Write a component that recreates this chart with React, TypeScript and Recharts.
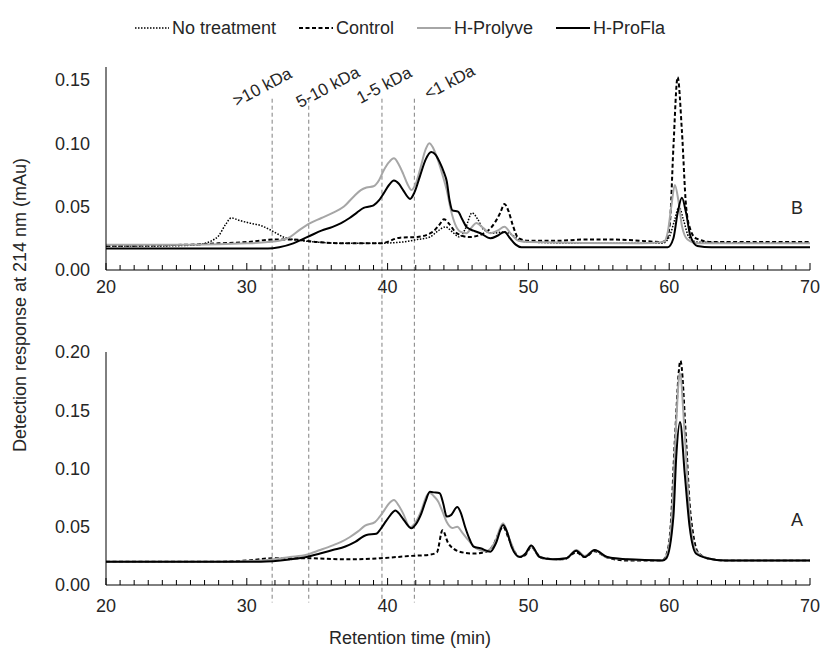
import { LineChart, Line, XAxis, YAxis, ReferenceLine } from "recharts";

type Pt = [number, number];

// retention time (min), detection response (AU)
const panelBNoTreatment: Pt[] = [
  [20, 0.019], [24, 0.019], [26, 0.0195], [27, 0.021], [27.5, 0.023], [28, 0.027],
  [28.5, 0.036], [28.9, 0.041], [29.5, 0.039], [30.2, 0.037], [31, 0.035], [31.6, 0.032],
  [32.1, 0.029], [32.6, 0.026], [33.3, 0.024], [34, 0.023], [35, 0.022], [37, 0.021],
  [39, 0.021], [41, 0.022], [42.1, 0.024], [43, 0.026], [43.6, 0.031], [44.1, 0.034],
  [44.6, 0.03], [45.1, 0.026], [45.5, 0.032], [46, 0.045], [46.4, 0.04], [46.8, 0.032],
  [47.5, 0.029], [48.3, 0.03], [48.8, 0.028], [49.3, 0.024], [50, 0.022], [55, 0.021],
  [59.5, 0.021], [60, 0.026], [60.4, 0.04], [60.7, 0.05], [61, 0.04], [61.4, 0.026],
  [62, 0.022], [70, 0.021],
];

const panelBControl: Pt[] = [
  [20, 0.019], [26, 0.02], [28, 0.021], [30, 0.022], [31.9, 0.024], [33.3, 0.024],
  [35, 0.022], [37, 0.021], [39.5, 0.021], [40.9, 0.0255], [42.1, 0.026], [43.2, 0.03],
  [43.7, 0.036], [44, 0.04], [44.4, 0.036], [44.9, 0.029], [45.8, 0.026], [47, 0.03],
  [47.6, 0.037], [48, 0.045], [48.3, 0.052], [48.6, 0.046], [48.9, 0.035], [49.3, 0.025],
  [50, 0.023], [52, 0.023], [54, 0.024], [56, 0.024], [58, 0.023], [59.5, 0.022],
  [59.8, 0.024], [60.05, 0.037], [60.3, 0.097], [60.6, 0.152], [60.9, 0.11], [61.2, 0.05],
  [61.5, 0.032], [61.9, 0.025], [63, 0.022], [70, 0.022],
];

const panelBProlyve: Pt[] = [
  [20, 0.02], [26, 0.02], [30, 0.021], [31.5, 0.022], [32.3, 0.023], [33.07, 0.026],
  [33.8, 0.032], [34.5, 0.037], [35.3, 0.041], [36.1, 0.045], [36.9, 0.05], [37.6, 0.058],
  [38.1, 0.063], [38.5, 0.065], [39, 0.066], [39.4, 0.071], [39.7, 0.078], [40.1, 0.085],
  [40.45, 0.088], [40.8, 0.083], [41.1, 0.076], [41.4, 0.068], [41.7, 0.063], [42, 0.068],
  [42.3, 0.079], [42.7, 0.095], [42.96, 0.1], [43.2, 0.097], [43.5, 0.089], [43.9, 0.075],
  [44.2, 0.063], [44.5, 0.047], [44.8, 0.036], [45.2, 0.03], [45.6, 0.029], [46, 0.034],
  [46.3, 0.037], [46.8, 0.033], [47.3, 0.029], [47.8, 0.031], [48.3, 0.034], [48.8, 0.028],
  [49.3, 0.023], [50, 0.022], [58, 0.021], [59.6, 0.022], [59.9, 0.03], [60.15, 0.05],
  [60.4, 0.067], [60.65, 0.055], [60.9, 0.035], [61.3, 0.024], [62, 0.021], [70, 0.021],
];

const panelBProFla: Pt[] = [
  [20, 0.017], [28, 0.017], [31.5, 0.017], [32.3, 0.018], [33.3, 0.021], [33.9, 0.024],
  [34.5, 0.027], [35.3, 0.031], [36.1, 0.034], [36.7, 0.037], [37.3, 0.041], [37.8, 0.045],
  [38.3, 0.049], [38.7, 0.05], [39, 0.051], [39.4, 0.055], [39.7, 0.06], [40.1, 0.067],
  [40.45, 0.0705], [40.8, 0.068], [41.1, 0.063], [41.6, 0.056], [41.9, 0.061], [42.3, 0.074],
  [42.7, 0.087], [43.1, 0.093], [43.4, 0.091], [43.7, 0.085], [44, 0.077], [44.2, 0.07],
  [44.4, 0.055], [44.6, 0.047], [45, 0.046], [45.3, 0.04], [45.6, 0.034], [46.1, 0.031],
  [46.6, 0.029], [47.3, 0.025], [47.8, 0.027], [48.3, 0.03], [48.7, 0.025], [49.1, 0.02],
  [49.5, 0.018], [58, 0.018], [59.9, 0.018], [60.3, 0.025], [60.6, 0.045], [60.9, 0.057],
  [61.2, 0.045], [61.5, 0.027], [62, 0.019], [63, 0.018], [70, 0.018],
];

const panelAControl: Pt[] = [
  [20, 0.02], [28, 0.02], [30, 0.021], [31.9, 0.023], [34.25, 0.023], [37, 0.022],
  [39.5, 0.023], [41.7, 0.025], [43, 0.026], [43.5, 0.028], [43.9, 0.047], [44.3, 0.036],
  [44.7, 0.031], [45.1, 0.0286], [46.1, 0.027], [47, 0.0286], [47.5, 0.034], [47.95, 0.046],
  [48.2, 0.05], [48.6, 0.04], [49, 0.029], [49.4, 0.024], [49.8, 0.026], [50.2, 0.033],
  [50.6, 0.027], [51, 0.023], [52.5, 0.022], [53.4, 0.028], [54, 0.024], [54.7, 0.029],
  [55.5, 0.024], [57, 0.021], [59.5, 0.021], [59.9, 0.03], [60.1, 0.05], [60.4, 0.124],
  [60.8, 0.1925], [61.2, 0.124], [61.45, 0.07], [61.7, 0.044], [62, 0.029], [62.7, 0.023],
  [64, 0.021], [70, 0.021],
];

const panelAProlyve: Pt[] = [
  [20, 0.02], [28, 0.02], [31, 0.021], [33.07, 0.024], [34.25, 0.026], [35.2, 0.03],
  [36.1, 0.034], [36.7, 0.037], [37.3, 0.041], [37.9, 0.046], [38.4, 0.051], [39.1, 0.054],
  [39.4, 0.058], [39.7, 0.063], [40.1, 0.07], [40.45, 0.073], [40.8, 0.068], [41.1, 0.0615],
  [41.6, 0.0495], [42, 0.054], [42.4, 0.064], [42.75, 0.076], [43, 0.079], [43.3, 0.076],
  [43.6, 0.0715], [43.9, 0.063], [44.2, 0.054], [44.6, 0.049], [44.95, 0.05], [45.3, 0.045],
  [45.7, 0.039], [46.3, 0.0315], [47, 0.029], [47.6, 0.036], [48.2, 0.053], [48.7, 0.038],
  [49.3, 0.024], [49.8, 0.027], [50.2, 0.034], [50.7, 0.025], [51.5, 0.022], [52.7, 0.023],
  [53.4, 0.03], [54, 0.025], [54.7, 0.03], [55.5, 0.024], [57, 0.022], [59.5, 0.021],
  [59.9, 0.028], [60.2, 0.06], [60.5, 0.14], [60.75, 0.182], [61.1, 0.13], [61.45, 0.06],
  [61.9, 0.029], [62.7, 0.023], [64, 0.021], [70, 0.021],
];

const panelAProFla: Pt[] = [
  [20, 0.02], [28, 0.02], [31, 0.02], [33.07, 0.022], [34.25, 0.024], [35.2, 0.027],
  [36.1, 0.03], [37, 0.033], [37.7, 0.037], [38.5, 0.043], [39.2, 0.044], [39.5, 0.048],
  [39.9, 0.055], [40.2, 0.06], [40.55, 0.064], [40.9, 0.06], [41.2, 0.055], [41.7, 0.0487],
  [42, 0.052], [42.4, 0.0615], [42.7, 0.072], [43, 0.08], [43.3, 0.0795], [43.7, 0.0787],
  [43.95, 0.07], [44.2, 0.0587], [44.5, 0.06], [44.95, 0.067], [45.2, 0.062], [45.5, 0.05],
  [45.8, 0.04], [46.1, 0.033], [46.6, 0.0315], [47.3, 0.0286], [47.7, 0.036], [48.2, 0.0515],
  [48.5, 0.045], [48.8, 0.033], [49.4, 0.024], [49.8, 0.027], [50.2, 0.034], [50.8, 0.024],
  [51.75, 0.022], [52.7, 0.023], [53.4, 0.0295], [54, 0.024], [54.7, 0.03], [55.6, 0.024],
  [57, 0.022], [59.5, 0.021], [59.8, 0.023], [60.3, 0.059], [60.5, 0.11], [60.77, 0.14],
  [61.1, 0.096], [61.45, 0.05], [61.9, 0.027], [62.7, 0.023], [64, 0.021], [70, 0.021],
];

const seriesNames = ["No treatment", "Control", "H-Prolyve", "H-ProFla"];
const xTicksMajor = [20, 30, 40, 50, 60, 70];
const xTicksMinor = Array.from({ length: 51 }, (_, i) => 20 + i);
const yTicksB = [0, 0.05, 0.1, 0.15];
const yTicksA = [0, 0.05, 0.1, 0.15, 0.2];
const kdaCuts = [31.8, 34.4, 39.6, 41.9];
const kdaLabels = [">10 kDa", "5-10 kDa", "1-5 kDa", "<1 kDa"];

const FONT = "'Liberation Sans', Arial, sans-serif";
const TEXT = "#262626";

const lineStyles: Record<string, { stroke: string; strokeWidth: number; strokeDasharray?: string }> = {
  "No treatment": { stroke: "#000", strokeWidth: 1.5, strokeDasharray: "1.5 1.5" },
  Control: { stroke: "#000", strokeWidth: 2, strokeDasharray: "4 2.5" },
  "H-Prolyve": { stroke: "#a6a6a6", strokeWidth: 2 },
  "H-ProFla": { stroke: "#000", strokeWidth: 2 },
};

// label offsets from the top of each cut line
const kdaLabelOffsets = [
  [-10, -12],
  [19, -12],
  [2, -14],
  [35, -17],
];

const toPoints = (pts: Pt[]) => pts.map(([t, v]) => ({ t, v }));

function XTick(props: any) {
  const { x, y, payload, gap } = props;
  const major = xTicksMajor.includes(payload.value);
  return (
    <g>
      <line x1={x} x2={x} y1={y} y2={y - (major ? 7 : 5)} stroke="#000" strokeWidth={1} />
      {major && (
        <text x={x} y={y + gap} dy="0.71em" textAnchor="middle" fontSize={18} fill={TEXT}>
          {payload.value}
        </text>
      )}
    </g>
  );
}

interface IPanelProps {
  series: { name: string; data: Pt[] }[];
  yMax: number;
  yTicks: number[];
  height: number;
  marginTop: number;
  tickGap: number;
  cutTop: number;
  cutBottom: number;
  showCutLabels?: boolean;
}

function Panel({ series, yMax, yTicks, height, marginTop, tickGap, cutTop, cutBottom, showCutLabels }: IPanelProps) {
  return (
    <LineChart width={821} height={height} margin={{ top: marginTop, right: 11, bottom: 0, left: 0 }}>
      <XAxis
        type="number"
        dataKey="t"
        domain={[20, 70]}
        ticks={xTicksMinor}
        interval={0}
        tickSize={0}
        tickMargin={0}
        tickLine={false}
        axisLine={{ stroke: "#000", strokeWidth: 1 }}
        tick={(p: any) => <XTick {...p} gap={tickGap} />}
        height={30}
        allowDataOverflow
      />
      <YAxis
        type="number"
        domain={[0, yMax]}
        ticks={yTicks}
        width={106}
        tickSize={0}
        tickMargin={16}
        tickLine={false}
        axisLine={{ stroke: "#000", strokeWidth: 1 }}
        tick={{ fontSize: 18, fill: TEXT }}
        tickFormatter={(v: number) => v.toFixed(2)}
        allowDataOverflow
      />
      {kdaCuts.map((cut, i) => (
        <ReferenceLine
          key={cut}
          segment={[
            { x: cut, y: cutTop },
            { x: cut, y: cutBottom },
          ]}
          ifOverflow="visible"
          stroke="#808080"
          strokeWidth={1}
          strokeDasharray="4 3"
          label={
            showCutLabels
              ? (p: any) => {
                  const vb = p.viewBox || {};
                  const cx = vb.x + kdaLabelOffsets[i][0];
                  const cy = vb.y + kdaLabelOffsets[i][1];
                  return (
                    <text
                      transform={`translate(${cx},${cy}) rotate(-28)`}
                      textAnchor="middle"
                      dy="0.35em"
                      fontSize={17}
                      fill={TEXT}
                    >
                      {kdaLabels[i]}
                    </text>
                  );
                }
              : undefined
          }
        />
      ))}
      {series.map((s) => (
        <Line
          key={s.name}
          data={toPoints(s.data)}
          dataKey="v"
          type="monotone"
          dot={false}
          activeDot={false}
          isAnimationActive={false}
          {...lineStyles[s.name]}
        />
      ))}
    </LineChart>
  );
}

function LegendSample({ name }: { name: string }) {
  const st = lineStyles[name];
  return (
    <svg width={34} height={10} style={{ marginRight: 3 }}>
      <line x1={0} x2={34} y1={5} y2={5} stroke={st.stroke} strokeWidth={st.strokeWidth} strokeDasharray={st.strokeDasharray} />
    </svg>
  );
}

export default function App() {
  const panelB = [
    { name: seriesNames[0], data: panelBNoTreatment },
    { name: seriesNames[1], data: panelBControl },
    { name: seriesNames[2], data: panelBProlyve },
    { name: seriesNames[3], data: panelBProFla },
  ];
  const panelA = [
    { name: seriesNames[1], data: panelAControl },
    { name: seriesNames[2], data: panelAProlyve },
    { name: seriesNames[3], data: panelAProFla },
  ];

  return (
    <div
      style={{
        position: "absolute",
        left: 0,
        top: 0,
        width: 821,
        height: 650,
        background: "#fff",
        fontFamily: FONT,
        color: TEXT,
        overflow: "hidden",
      }}
    >
      <div style={{ position: "absolute", left: 135, top: 18, display: "flex", alignItems: "center", lineHeight: "20px", fontSize: 18, whiteSpace: "nowrap" }}>
        {seriesNames.map((n) => (
          <div key={n} style={{ display: "flex", alignItems: "center", marginRight: 23 }}>
            <LegendSample name={n} />
            <span>{n}</span>
          </div>
        ))}
      </div>

      <div style={{ position: "absolute", left: 0, top: 0 }}>
        <Panel series={panelB} yMax={0.16} yTicks={yTicksB} height={300} marginTop={67} tickGap={10} cutTop={0.135} cutBottom={-0.025} showCutLabels />
      </div>
      <div style={{ position: "absolute", left: 0, top: 300 }}>
        <Panel series={panelA} yMax={0.2} yTicks={yTicksA} height={315} marginTop={52} tickGap={14} cutTop={0.25} cutBottom={-0.015} />
      </div>

      <div style={{ position: "absolute", left: 797, top: 208, transform: "translate(-50%,-50%)", fontSize: 18 }}>B</div>
      <div style={{ position: "absolute", left: 797, top: 520, transform: "translate(-50%,-50%)", fontSize: 18 }}>A</div>

      <div style={{ position: "absolute", left: 410, top: 638, transform: "translate(-50%,-50%)", fontSize: 18, whiteSpace: "nowrap" }}>
        Retention time (min)
      </div>
      <div
        style={{
          position: "absolute",
          left: 20,
          top: 305,
          transform: "translate(-50%,-50%) rotate(-90deg)",
          fontSize: 18,
          whiteSpace: "nowrap",
        }}
      >
        Detection response at 214 nm (mAu)
      </div>
    </div>
  );
}
